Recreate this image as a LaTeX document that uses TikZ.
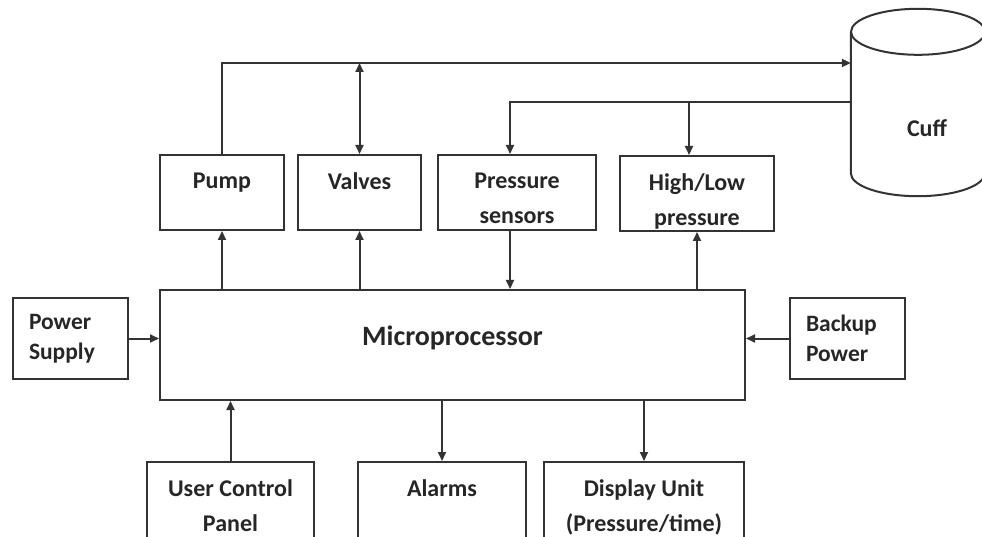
\documentclass[tikz,border=0pt]{standalone}
\usepackage{fontspec}
\setmainfont{Carlito}
\usetikzlibrary{arrows.meta,positioning}

\begin{document}
\begin{tikzpicture}[
  x=1pt,y=-1pt,
  line/.style={draw=black!80,line width=2pt},
  box/.style={line,minimum height=75pt,inner sep=0pt},
  lbl/.style={anchor=north,yshift=-15pt,align=center,text=black!85,
              font=\bfseries\fontsize{24}{35}\selectfont},
  side/.style={line,minimum height=81pt,text width=83pt,inner xsep=16pt,
               align=left,text=black!85,
               font=\bfseries\fontsize{23.5}{30}\selectfont},
  arrow/.style={line,-{Triangle[length=9pt,width=8pt]}},
  twoway/.style={line,{Triangle[length=9pt,width=8pt]}-{Triangle[length=9pt,width=8pt]}}
]
\useasboundingbox (0,0) rectangle (982,537);
\clip (0,0) rectangle (982,537);

% top row
\node[box,minimum width=124pt,label={[lbl]north:Pump}] (pump) at (222,192.5) {};
\node[box,minimum width=123pt,label={[lbl]north:Valves}] (valves) at (359.5,192.5) {};
\node[box,minimum width=158pt,label={[lbl]north:Pressure\\sensors}] (sensors) at (517,192.5) {};
\node[box,minimum width=154pt,label={[lbl]north:High/Low\\pressure}] (hilo) at (697,193.5) {};

% cuff
\node[minimum width=134pt,minimum height=141pt,inner sep=0pt,
      label={[lbl,anchor=center,xshift=9pt,yshift=-11pt]center:Cuff}] (cuff) at (918,102.5) {};
\draw[line] (cuff.north west) -- (cuff.south west)
  arc[start angle=180,end angle=0,x radius=67,y radius=23] -- (cuff.north east);
\draw[line] (cuff.north) ellipse[x radius=67,y radius=23];

% middle row
\node[box,minimum width=585pt,minimum height=110pt,
      label={[lbl,font=\bfseries\fontsize{28}{30}\selectfont,yshift=-18pt]north:Microprocessor}] (micro) at (452.5,345) {};
\node[side] (power) at (70.5,338.5) {Power\\Supply};
\node[side] (backup) at (847.5,338.5) {Backup\\Power};

% bottom row
\node[box,minimum width=167pt,minimum height=100pt,label={[lbl]north:User Control\\Panel}] (user) at (230.5,512) {};
\node[box,minimum width=168pt,minimum height=100pt,label={[lbl]north:Alarms}] (alarms) at (442,512) {};
\node[box,minimum width=200pt,minimum height=100pt,label={[lbl]north:Display Unit\\(Pressure/time)}] (display) at (644,512) {};

% air path
\coordinate (cuffin) at (cuff.west |- 0,63);
\draw[arrow] (pump.north) |- (cuffin);
\draw[twoway] (valves.north |- cuffin) -- (valves.north);
\draw[arrow] (cuff.west) -| ([xshift=-7pt]sensors.north);
\draw[arrow] ([xshift=-8pt]hilo.north |- cuff.west) -- ([xshift=-8pt]hilo.north);

% signals
\draw[arrow] (pump.south |- micro.north) -- (pump.south);
\draw[arrow] (valves.south |- micro.north) -- (valves.south);
\draw[arrow] ([xshift=-7pt]sensors.south) -- ([xshift=-7pt]sensors.south |- micro.north);
\draw[arrow] (hilo.south |- micro.north) -- (hilo.south);
\draw[arrow] (power.east) -- (micro.west |- power.east);
\draw[arrow] (backup.west) -- (micro.east |- backup.west);
\draw[arrow] (user.north) -- (user.north |- micro.south);
\draw[arrow] (alarms.north |- micro.south) -- (alarms.north);
\draw[arrow] (display.north |- micro.south) -- (display.north);
\end{tikzpicture}
\end{document}
